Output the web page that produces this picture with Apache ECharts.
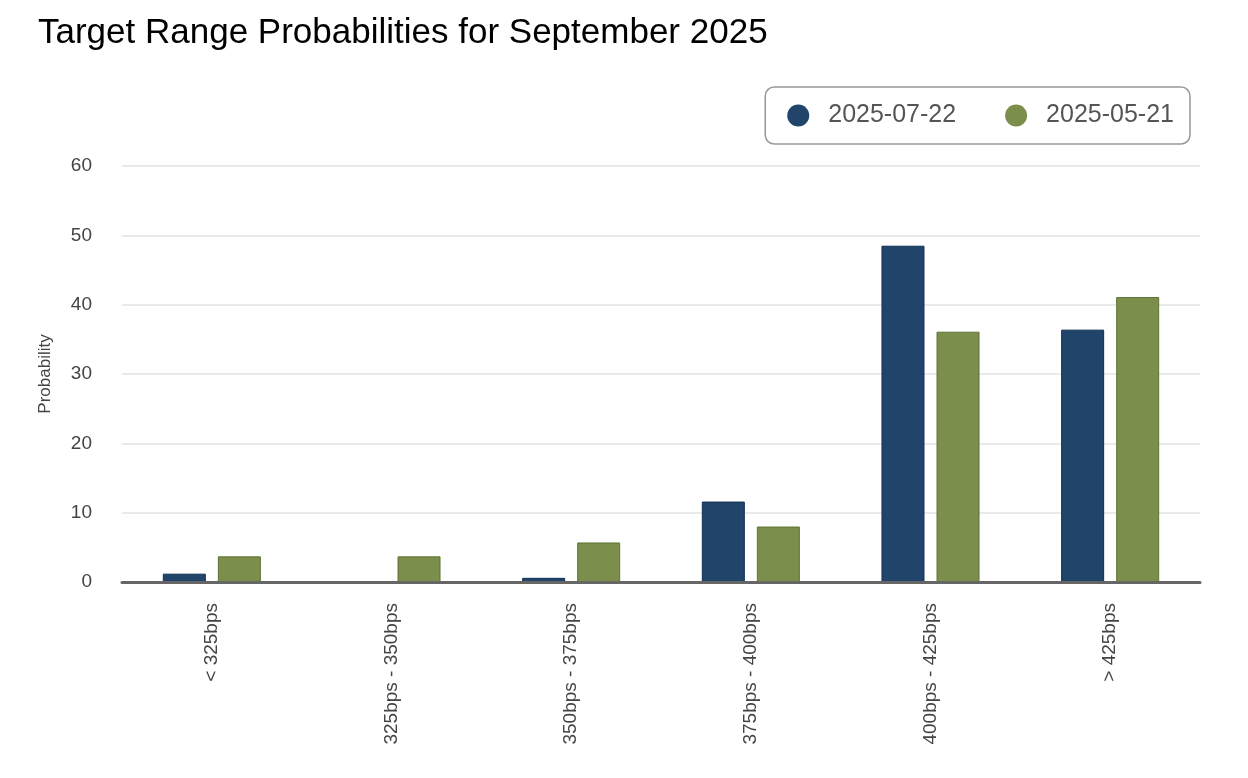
<!DOCTYPE html>
<html>
<head>
<meta charset="utf-8">
<script src="https://cdn.jsdelivr.net/npm/echarts@6/dist/echarts.min.js"></script>
<style>
  html, body { margin: 0; padding: 0; background: #fff; }
  #chart { width: 1248px; height: 778px; }
</style>
</head>
<body>
<div id="chart"></div>
<script>
// Categorieen en waarden
const categories = ['< 325bps', '325bps - 350bps', '350bps - 375bps', '375bps - 400bps', '400bps - 425bps', '> 425bps'];
const seriesNames = ['2025-07-22', '2025-05-21'];
const july = [1.2, 0, 0.6, 11.6, 48.5, 36.4];
const may = [3.7, 3.7, 5.7, 8.0, 36.1, 41.1];

const chartInstance = echarts.init(document.getElementById('chart'));

const options = {
  animation: false,
  title: {
    text: 'Target Range Probabilities for September 2025',
    left: 38,
    top: 16,
    padding: 0,
    textStyle: {
      fontFamily: 'Liberation Sans, Arial, sans-serif',
      fontSize: 35,
      fontWeight: 'normal',
      color: '#000'
    }
  },
  legend: {
    data: seriesNames,
    right: 58,
    top: 87,
    icon: 'circle',
    itemWidth: 22,
    itemHeight: 22,
    itemGap: 49,
    padding: [16, 16, 16, 22],
    borderColor: '#999',
    borderWidth: 1.5,
    borderRadius: 9,
    itemStyle: { borderWidth: 0 },
    textStyle: {
      fontFamily: 'Liberation Sans, Arial, sans-serif',
      fontSize: 25,
      color: '#555',
      padding: [0, 0, 0, 14]
    }
  },
  grid: {
    left: 122,
    right: 48,
    top: 166,
    bottom: 196
  },
  xAxis: {
    type: 'category',
    data: categories,
    z: 5,
    axisLine: { lineStyle: { color: '#666', width: 3 } },
    axisTick: { show: false },
    axisLabel: {
      rotate: 90,
      margin: 21,
      fontFamily: 'Liberation Sans, Arial, sans-serif',
      fontSize: 19,
      color: '#444'
    }
  },
  yAxis: {
    type: 'value',
    min: 0,
    max: 60,
    interval: 10,
    name: 'Probability',
    nameLocation: 'middle',
    nameGap: 68,
    nameTextStyle: {
      fontFamily: 'Liberation Sans, Arial, sans-serif',
      fontSize: 17,
      color: '#444'
    },
    axisLine: { show: false },
    axisTick: { show: false },
    axisLabel: {
      margin: 30,
      padding: [8, 0, 0, 0],
      fontFamily: 'Liberation Sans, Arial, sans-serif',
      fontSize: 19,
      color: '#444'
    },
    splitLine: { lineStyle: { color: '#e3e3e3', width: 1.5 } }
  },
  series: [
    {
      name: seriesNames[0],
      type: 'bar',
      data: july,
      barWidth: 43,
      barGap: '28%',
      itemStyle: { color: '#21456a', borderColor: '#0f2f50', borderWidth: 1 }
    },
    {
      name: seriesNames[1],
      type: 'bar',
      data: may,
      barWidth: 43,
      barGap: '28%',
      itemStyle: { color: '#7b8e4b', borderColor: '#5f7332', borderWidth: 1 }
    }
  ]
};

chartInstance.setOption(options);

window.addEventListener('resize', () => {
  chartInstance.resize();
});
</script>
</body>
</html>
